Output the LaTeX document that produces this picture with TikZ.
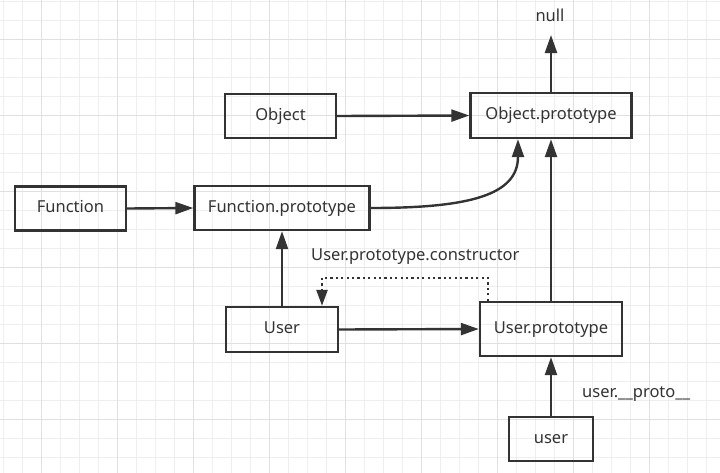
\documentclass[tikz,border=0pt]{standalone}
\usepackage{fontspec}
\setmainfont{Noto Sans}
\usetikzlibrary{arrows.meta}
\definecolor{ink}{HTML}{333333}
\definecolor{gridlo}{HTML}{EEEEEE}
\definecolor{gridhi}{HTML}{E0E0E0}
\tikzset{
  objbox/.style={draw=ink, line width=2.4pt, text=ink, minimum height=44pt, inner sep=0pt, text height=12pt, text depth=3.5pt},
  link/.style={draw=ink, line width=2.4pt, -{Triangle[length=18pt,width=12pt]}},
  dotlink/.style={draw=ink, line width=2.4pt, dash pattern=on 2.2pt off 3.2pt, -{Triangle[length=16pt,width=11pt]}},
  lbl/.style={text=ink, inner sep=0pt},
}

\begin{document}
\begin{tikzpicture}[x=1pt, y=-1pt, font=\fontsize{16.5}{20}\selectfont]
        \useasboundingbox (0,0) rectangle (720,472);
        \clip (0,0) rectangle (720,472);
        \fill[white] (0,0) rectangle (720,472);
        \draw[gridlo, line width=1pt, shift={(3.3,1.7)}] (-19,-19) grid[step=19pt] (740,490);
        \draw[gridhi, line width=1pt, shift={(41.3,39.3)}] (-76,-76) grid[step=76pt] (700,450);
        \node[lbl] (null) at (550,15) {null};
        \coordinate (nulltip) at (551,35);
        \node[objbox, minimum width=111pt] (obj) at (280.5,116) {Object};
        \node[objbox, minimum width=161pt, minimum height=45pt] (oproto) at (551,115.5) {Object.prototype};
        \node[objbox, minimum width=111pt] (func) at (70.5,208.5) {Function};
        \node[objbox, minimum width=175pt] (fproto) at (282,208) {Function.prototype};
        \node[objbox, minimum width=112pt, minimum height=45pt] (ctor) at (282,329.5) {User};
        \node[objbox, minimum width=142pt, minimum height=54pt] (uproto) at (551,329) {User.prototype};
        \node[objbox, minimum width=84pt] (inst) at (551,439) {user};
        \node[lbl, anchor=base west] (ctorlbl) at (311,260) {User.prototype.constructor};
        \node[lbl, anchor=base west] (protolbl) at (582,397.3) {user.\_\_proto\_\_};
        \draw[link] (oproto.north) -- (nulltip);
        \draw[link] (obj.east) -- (oproto.west);
        \draw[link] (func.east) -- (fproto.west);
        \draw[link] (fproto.east) .. controls (470,208) and (518,195) .. ([xshift=-33pt]oproto.south);
        \draw[link] (uproto.north) -- (oproto.south);
        \draw[link] (ctor.north) -- (fproto.south);
        \draw[link] (ctor.east) -- (uproto.west);
        \draw[link] (inst.north) -- (uproto.south);
        \draw[dotlink] ([xshift=9pt]uproto.north west) -- ++(0,-23) -| ([xshift=40pt]ctor.north);
    \end{tikzpicture}
\end{document}
